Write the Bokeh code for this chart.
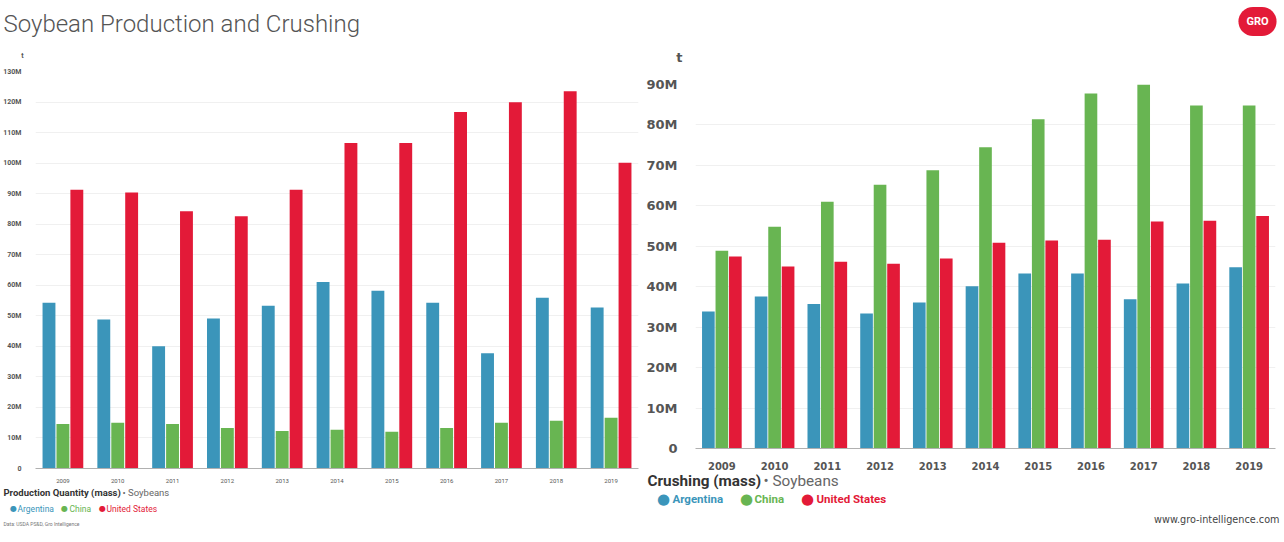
from bokeh.plotting import figure
from bokeh.layouts import row, column
from bokeh.models import Label, CustomJSTickFormatter, FixedTicker, ColumnDataSource, Range1d
from bokeh.transform import dodge
from bokeh.embed import file_html
from bokeh.resources import INLINE

# ---------------- data (million tonnes) ----------------
years = ["2009", "2010", "2011", "2012", "2013", "2014", "2015", "2016", "2017", "2018", "2019"]
countries = ["Argentina", "China", "United States"]
colors = ["#3b95ba", "#68b552", "#e31a38"]

prod_argentina = [54.3, 48.8, 40.0, 49.1, 53.3, 61.1, 58.2, 54.3, 37.7, 55.9, 52.7]
prod_china = [14.6, 15.0, 14.6, 13.3, 12.3, 12.7, 12.0, 13.3, 15.0, 15.6, 16.6]
prod_us = [91.3, 90.4, 84.2, 82.6, 91.3, 106.6, 106.6, 116.7, 119.9, 123.5, 100.1]

crush_argentina = [33.9, 37.6, 35.7, 33.4, 36.1, 40.1, 43.3, 43.3, 36.9, 40.8, 44.8]
crush_china = [48.9, 54.8, 61.0, 65.2, 68.8, 74.5, 81.4, 87.8, 90.0, 84.8, 84.8]
crush_us = [47.5, 45.0, 46.2, 45.7, 47.0, 50.9, 51.4, 51.6, 56.1, 56.3, 57.5]

left_ticks = [0, 10, 20, 30, 40, 50, 60, 70, 80, 90, 100, 110, 120, 130]
right_ticks = [0, 10, 20, 30, 40, 50, 60, 70, 80, 90]

fmt = CustomJSTickFormatter(code="return tick == 0 ? '0' : tick + 'M';")


def lab(p, text, x, y, size, color, bold=False, font="Roboto", align="left", baseline="middle", **kw):
    # x: pixels from the left edge, y: pixels from the top edge of the text panel
    p.add_layout(Label(x=x, y=p.height - y, x_units="screen", y_units="screen", text=text,
                       text_font=font, text_font_size=f"{size}px",
                       text_font_style="bold" if bold else "normal",
                       text_color=color, text_align=align, text_baseline=baseline, **kw))


def text_panel(width, height):
    p = figure(width=width, height=height, x_range=Range1d(0, 1), y_range=Range1d(0, 1),
               min_border=0, output_backend="svg", toolbar_location=None,
               x_axis_type=None, y_axis_type=None)
    p.outline_line_color = None
    p.grid.visible = False
    return p


def make_fig(width, height, bl, br, bt, bb, ymax, ticks, series, offs, bw):
    src = ColumnDataSource(dict(year=years, a=series[0], c=series[1], u=series[2]))
    p = figure(x_range=years, y_range=(0, ymax), width=width, height=height,
               min_border_left=bl, min_border_right=br, min_border_top=bt, min_border_bottom=bb,
               output_backend="svg", toolbar_location=None)
    for key, off, col in zip(["a", "c", "u"], offs, colors):
        p.vbar(x=dodge("year", off, range=p.x_range), top=key, width=bw, source=src,
               fill_color=col, line_color=None)
    p.outline_line_color = None
    p.xgrid.grid_line_color = None
    p.ygrid.grid_line_color = "#f0f0f0"
    p.yaxis.ticker = FixedTicker(ticks=ticks)
    p.yaxis.formatter = fmt
    p.yaxis.axis_line_color = None
    p.yaxis.major_tick_line_color = None
    p.yaxis.minor_tick_line_color = None
    p.xaxis.major_tick_line_color = None
    p.xaxis.axis_line_color = "#b0b0b0"
    p.xaxis.major_label_text_color = "#555555"
    p.yaxis.major_label_text_color = "#555555"
    p.yaxis.major_label_text_font_style = "bold"
    return p


# ---------------- left: production ----------------
W1 = 642
lh = text_panel(W1, 63)
lab(lh, "Soybean Production and Crushing", 3, 23, 24, "#555555", font="Roboto Light")
lab(lh, "t", 23, 55, 7, "#555555", bold=True, align="right")

lc = make_fig(W1, 422, 30, 4, 8, 14, 130, left_ticks,
              [prod_argentina, prod_china, prod_us], [-0.254, 0, 0.254], 0.235)
lc.yaxis.major_label_text_font = "Roboto"
lc.yaxis.major_label_text_font_size = "7px"
lc.yaxis.major_label_standoff = 8
lc.xaxis.major_label_text_font = "Roboto"
lc.xaxis.major_label_text_font_size = "6px"
lc.xaxis.major_label_standoff = 4

lf = text_panel(W1, 57)
lab(lf, "Production Quantity (mass)", 3, 7, 9.5, "#333333", bold=True)
lab(lf, "• Soybeans", 122, 7, 9.5, "#666666")
lab(lf, "●", 13, 23, 8, colors[0], font="DejaVu Sans", align="center")
lab(lf, "Argentina", 17, 23, 8.5, colors[0])
lab(lf, "●", 64, 23, 8, colors[1], font="DejaVu Sans", align="center")
lab(lf, "China", 69, 23, 8.5, colors[1])
lab(lf, "●", 102, 23, 8, colors[2], font="DejaVu Sans", align="center")
lab(lf, "United States", 106, 23, 8.5, colors[2])
lab(lf, "Data: USDA PS&D, Gro Intelligence", 3, 38, 5, "#777777")

# ---------------- right: crushing ----------------
W2 = 642
rh = text_panel(W2, 76)
lab(rh, "t", 40, 57, 13, "#555555", bold=True, font="DejaVu Sans", align="right")
# logo: white GRO on a round red badge
lab(rh, "GRO", 615, 21, 11, "#ffffff", bold=True, font="Roboto", align="center",
    background_fill_color="#e31a38", padding=8, border_radius=16)

rc = make_fig(W2, 396, 53, 9, 8, 22, 90, right_ticks,
              [crush_argentina, crush_china, crush_us], [-0.256, 0, 0.256], 0.24)
rc.yaxis.major_label_text_font = "DejaVu Sans"
rc.yaxis.major_label_text_font_size = "13px"
rc.yaxis.major_label_standoff = 12
rc.xaxis.major_label_text_font = "DejaVu Sans"
rc.xaxis.major_label_text_font_size = "10px"
rc.xaxis.major_label_text_font_style = "bold"
rc.xaxis.major_label_standoff = 7

rf = text_panel(W2, 70)
lab(rf, "Crushing (mass)", 5, 8, 15.3, "#333333", bold=True)
lab(rf, "• Soybeans", 121, 8, 15.3, "#666666")
lab(rf, "●", 21, 26, 15, colors[0], font="DejaVu Sans", align="center")
lab(rf, "Argentina", 30, 26, 11.5, colors[0], bold=True)
lab(rf, "●", 104, 26, 15, colors[1], font="DejaVu Sans", align="center")
lab(rf, "China", 112, 26, 11.5, colors[1], bold=True)
lab(rf, "●", 165, 26, 15, colors[2], font="DejaVu Sans", align="center")
lab(rf, "United States", 174, 26, 11.5, colors[2], bold=True)
lab(rf, "www.gro-intelligence.com", 637, 47, 9.7, "#444444", font="DejaVu Sans", align="right")

layout = row(column(row(lh), lc, row(lf)), column(row(rh), rc, row(rf)))
open("out.html", "w").write(file_html(layout, INLINE))
